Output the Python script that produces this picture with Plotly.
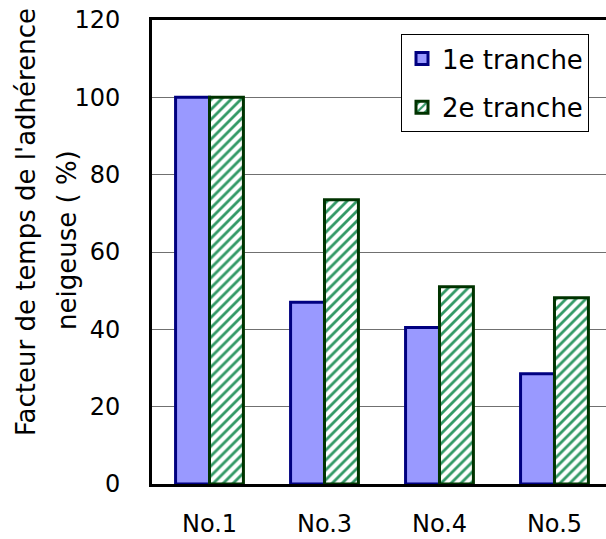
import plotly.graph_objects as go

categories = ["No.1", "No.3", "No.4", "No.5"]
tranche1 = [100, 47, 40.5, 28.5]
tranche2 = [100, 73.5, 51, 48.2]
series_names = ["1e tranche", "2e tranche"]
y_ticks = [0, 20, 40, 60, 80, 100, 120]
y_title_lines = ["Facteur de temps de l'adhérence", "neigeuse ( %)"]

FONT = "DejaVu Sans"
PLOT_L, PLOT_T, PLOT_B = 152, 20, 484
W, H = 606, 539


def px_to_paper_x(px):
    return (px - PLOT_L) / (W - PLOT_L)


def px_to_paper_y(py):
    return (PLOT_B - py) / (PLOT_B - PLOT_T)


fig = go.Figure()
fig.add_trace(go.Bar(
    x=categories, y=tranche1, name=series_names[0], legendgroup="a",
    marker=dict(color="#9999FF", line=dict(color="#000080", width=3)),
))
fig.add_trace(go.Bar(
    x=categories, y=tranche2, name=series_names[1], legendgroup="b",
    marker=dict(
        color="white",
        line=dict(color="#003300", width=3),
        pattern=dict(shape="/", fgcolor="#339966", bgcolor="white",
                     fgopacity=1, size=7, solidity=0.4, fillmode="replace"),
    ),
))

# rotated two-line axis title
for text, cx, cy in zip(y_title_lines, [26, 67], [222, 240]):
    fig.add_annotation(
        text=text, textangle=-90, showarrow=False,
        xref="paper", yref="paper",
        x=px_to_paper_x(cx), y=px_to_paper_y(cy),
        xanchor="center", yanchor="middle",
        font=dict(family=FONT, size=26, color="black"),
    )

fig.update_layout(
    width=W, height=H,
    margin=dict(l=PLOT_L, r=0, t=PLOT_T, b=H - PLOT_B, autoexpand=False),
    paper_bgcolor="white", plot_bgcolor="white",
    barmode="group", bargap=0.41, bargroupgap=0,
    font=dict(family=FONT, size=24, color="black"),
    showlegend=True,
    legend=dict(
        x=px_to_paper_x(401), y=px_to_paper_y(34),
        xanchor="left", yanchor="top",
        bgcolor="white", bordercolor="black", borderwidth=1,
        font=dict(family=FONT, size=26),
        traceorder="grouped", tracegroupgap=12, itemwidth=30,
    ),
    xaxis=dict(
        range=[-0.5, 3.448], automargin=False,
        showline=True, linecolor="black", linewidth=3, mirror=True,
        ticks="", ticklabelstandoff=16,
        showgrid=False,
    ),
    yaxis=dict(
        range=[0, 120], tickvals=y_ticks, automargin=False,
        showline=True, linecolor="black", linewidth=3, mirror=False,
        showgrid=True, gridcolor="#707070", gridwidth=1,
        ticks="", ticklabelstandoff=24,
        zeroline=False,
    ),
)

fig.write_html("out.html")
